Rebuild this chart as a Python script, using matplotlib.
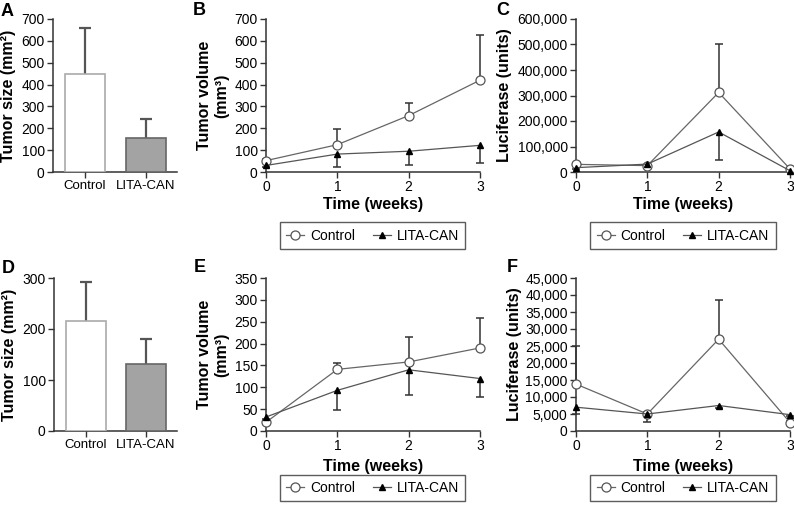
import matplotlib.pyplot as plt
import numpy as np
from matplotlib.ticker import FuncFormatter, MultipleLocator

plt.rcParams['font.family'] = ['Liberation Sans', 'DejaVu Sans']
plt.rcParams['font.size'] = 10
plt.rcParams['axes.linewidth'] = 1.1
plt.rcParams['axes.edgecolor'] = '#333333'
plt.rcParams['xtick.color'] = '#333333'
plt.rcParams['ytick.color'] = '#333333'
plt.rcParams['xtick.labelcolor'] = 'black'
plt.rcParams['ytick.labelcolor'] = 'black'

# ---- data ----
groups = ['Control', 'LITA-CAN']
weeks = [0, 1, 2, 3]

# A / D: tumour size (mean, upper error)
size_a = [450, 155]
size_a_err = [210, 88]
size_d = [215, 132]
size_d_err = [77, 49]

# B: tumour volume, experiment 1
vol_b_ctrl = [52, 125, 258, 420]
vol_b_ctrl_err = [8, 70, 57, 208]
vol_b_lita = [30, 82, 95, 122]
vol_b_lita_err = [5, 57, 65, 80]

# C: luciferase, experiment 1
luc_c_ctrl = [30000, 25000, 312000, 12000]
luc_c_ctrl_err = [6000, 4000, 188000, 3000]
luc_c_lita = [17000, 31000, 157000, 5000]
luc_c_lita_err = [4000, 4000, 111000, 2000]

# E: tumour volume, experiment 2
vol_e_ctrl = [20, 141, 158, 190]
vol_e_ctrl_err = [5, 14, 57, 68]
vol_e_lita = [32, 93, 140, 120]
vol_e_lita_err = [5, 46, 58, 42]

# F: luciferase, experiment 2
luc_f_ctrl = [13800, 5000, 27000, 2500]
luc_f_ctrl_err = [11200, 500, 11500, 500]
luc_f_lita = [7000, 5000, 7500, 4800]
luc_f_lita_err = [2000, 2300, 800, 500]

W, H = 794, 507
fig = plt.figure(figsize=(W / 100, H / 100), dpi=100)


def px_axes(l, t, r, b):
    return fig.add_axes([l / W, 1 - b / H, (r - l) / W, (b - t) / H])


def style(ax):
    ax.spines['top'].set_visible(False)
    ax.spines['right'].set_visible(False)
    ax.tick_params(direction='out', length=4, width=1.0, pad=2)


def one_sided(ax, x, y, err, up, color, lw, cap):
    # error bar on one side only, with a cap at the far end
    y = np.asarray(y, float)
    err = np.asarray(err, float)
    end = y + err if up else y - err
    ax.vlines(x, y, end, colors=color, lw=lw, zorder=2, clip_on=False)
    ax.plot(x, end, ls='none', marker='_', markersize=cap, markeredgewidth=lw,
            color=color, zorder=2, clip_on=False)


def bar_panel(ax, vals, errs, ymax, step, label_x):
    style(ax)
    x = np.arange(len(groups))
    ax.bar(x, vals, width=0.66, color=['white', '#a3a3a3'],
           edgecolor=['#aaaaaa', '#666666'], linewidth=1.2, zorder=3)
    one_sided(ax, x, vals, errs, True, '#555555', 1.6, 8)
    ax.set_xlim(-0.52, 1.51)
    ax.set_ylim(0, ymax)
    ax.yaxis.set_major_locator(MultipleLocator(step))
    ax.set_xticks(x, groups, fontsize=9.5)
    ax.set_ylabel('Tumor size (mm²)', fontsize=11.5, fontweight='bold')
    ax.yaxis.set_label_coords(label_x, 0.5)


def line_panel(ax, ctrl, ctrl_err, lita, lita_err, ymax, step, ylabel, label_x, xlab_y, fmt=None):
    style(ax)
    one_sided(ax, weeks, ctrl, ctrl_err, True, '#333333', 1.1, 6)
    one_sided(ax, weeks, lita, lita_err, False, '#333333', 1.1, 6)
    l1, = ax.plot(weeks, ctrl, color='#666666', lw=0.9, marker='o', markersize=6.5,
                  markerfacecolor='white', markeredgecolor='#555555', markeredgewidth=0.9,
                  clip_on=False, zorder=4, label='Control')
    l2, = ax.plot(weeks, lita, color='#555555', lw=0.9, marker='^', markersize=5,
                  markerfacecolor='black', markeredgecolor='black',
                  clip_on=False, zorder=4, label='LITA-CAN')
    ax.set_xlim(0, 3)
    ax.set_ylim(0, ymax)
    ax.set_xticks(weeks)
    ax.yaxis.set_major_locator(MultipleLocator(step))
    if fmt:
        ax.yaxis.set_major_formatter(FuncFormatter(lambda v, p: f'{int(v):,}'))
    ax.set_ylabel(ylabel, fontsize=11.5, fontweight='bold', linespacing=1.25)
    ax.yaxis.set_label_coords(label_x, 0.5)
    ax.set_xlabel('Time (weeks)', fontsize=11.5, fontweight='bold', va='top')
    ax.xaxis.set_label_coords(0.5, xlab_y)
    return l1, l2


def add_legend(ax, handles, cx, cy):
    leg = ax.legend(handles=handles, loc='center', bbox_to_anchor=(cx / W, 1 - cy / H),
                    bbox_transform=fig.transFigure, ncol=2, frameon=True, fancybox=False,
                    fontsize=10, handlelength=1.3, handletextpad=0.4, columnspacing=1.3,
                    borderpad=0.45, borderaxespad=0, numpoints=1)
    leg.get_frame().set_edgecolor('#333333')
    leg.get_frame().set_linewidth(1.0)


axA = px_axes(53, 19, 177, 172)
bar_panel(axA, size_a, size_a_err, 700, 100, -0.30)

axD = px_axes(54, 278, 177, 431)
bar_panel(axD, size_d, size_d_err, 300, 100, -0.30)

axB = px_axes(266, 19, 480, 172)
h = line_panel(axB, vol_b_ctrl, vol_b_ctrl_err, vol_b_lita, vol_b_lita_err, 700, 100,
               'Tumor volume\n(mm³)', -0.17, -0.165)
add_legend(axB, h, 372.5, 235.5)

axC = px_axes(576, 19, 790, 172)
h = line_panel(axC, luc_c_ctrl, luc_c_ctrl_err, luc_c_lita, luc_c_lita_err, 600000, 100000,
               'Luciferase (units)', -0.30, -0.165, fmt=True)
add_legend(axC, h, 683, 235.5)

axE = px_axes(266, 278, 480, 431)
h = line_panel(axE, vol_e_ctrl, vol_e_ctrl_err, vol_e_lita, vol_e_lita_err, 350, 50,
               'Tumor volume\n(mm³)', -0.17, -0.18)
add_legend(axE, h, 372.5, 488)

axF = px_axes(576, 278, 790, 431)
h = line_panel(axF, luc_f_ctrl, luc_f_ctrl_err, luc_f_lita, luc_f_lita_err, 45000, 5000,
               'Luciferase (units)', -0.25, -0.18, fmt=True)
add_legend(axF, h, 683, 488)

for letter, x, y in [('A', 1, 16), ('B', 193, 15), ('C', 496, 15),
                     ('D', 2, 273), ('E', 194, 272), ('F', 507, 272)]:
    fig.text(x / W, 1 - y / H, letter, fontsize=13, fontweight='bold', va='baseline', ha='left')

fig.savefig('out.png', dpi=100)
